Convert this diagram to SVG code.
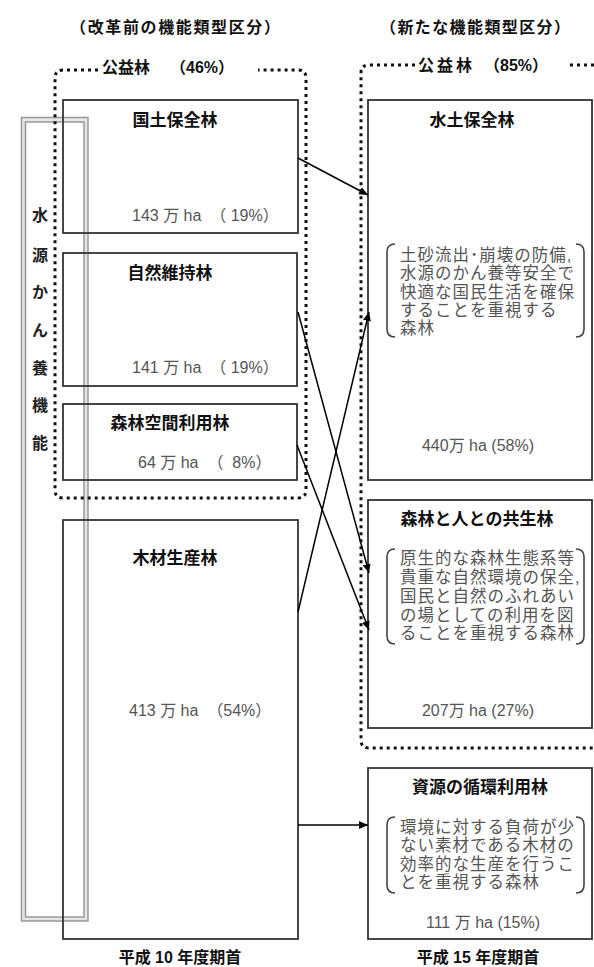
<svg xmlns="http://www.w3.org/2000/svg" width="594" height="967" viewBox="0 0 594 967">
<defs>
<marker id="ah" markerWidth="10" markerHeight="8" refX="9" refY="4" orient="auto" markerUnits="userSpaceOnUse">
<path d="M0,0 L9,4 L0,8 Z" fill="#000"/>
</marker>
<style>
text{font-family:"Liberation Sans","Noto Sans CJK JP",sans-serif;}
.hd{font-size:16px;font-weight:bold;fill:#111;}
.tt{font-size:17px;font-weight:bold;fill:#111;text-anchor:middle;}
.nm{font-size:16px;fill:#555;}
.nc{font-size:16px;fill:#555;text-anchor:middle;}
.br{font-size:16.5px;letter-spacing:1px;fill:#555;}
.vt{font-size:16px;font-weight:bold;fill:#222;text-anchor:middle;}
.box{fill:none;stroke:#333;stroke-width:1.8;}
.dot{fill:none;stroke:#111;stroke-width:3;stroke-dasharray:3 4;}
.bk{fill:none;stroke:#444;stroke-width:1.6;}
.ar{stroke:#000;stroke-width:1.5;fill:none;marker-end:url(#ah);}
</style>
</defs>
<rect width="594" height="967" fill="#fff"/>

<g id="water-function">
<path d="M21.5,117.5 H88 V921 H21.5 Z M25.5,122 V917 H84 V122 Z" fill="#e6e6e6" fill-rule="evenodd" stroke="#999" stroke-width="1.5"/>
<text class="vt" x="40" y="221">水</text>
<text class="vt" x="40" y="261">源</text>
<text class="vt" x="40" y="298">か</text>
<text class="vt" x="40" y="336">ん</text>
<text class="vt" x="40" y="374">養</text>
<text class="vt" x="40" y="411">機</text>
<text class="vt" x="40" y="449">能</text>
</g>

<g id="headers">
<text class="hd" x="70" y="33" textLength="210" lengthAdjust="spacing">（改革前の機能類型区分）</text>
<text class="hd" x="380" y="33" textLength="190" lengthAdjust="spacing">（新たな機能類型区分）</text>
<text class="hd" x="102" y="73">公益林</text>
<text class="hd" x="170" y="73">（46%）</text>
<text class="hd" x="418" y="71" textLength="54" lengthAdjust="spacing">公益林</text>
<text class="hd" x="484" y="71">（85%）</text>
<text class="hd" x="180" y="963" text-anchor="middle">平成 10 年度期首</text>
<text class="hd" x="478" y="963" text-anchor="middle">平成 15 年度期首</text>
</g>

<g id="public-forest-old">
<path class="dot" d="M98,70 H63 Q55,70 55,78 V490 Q55,498 63,498 H298 Q306,498 306,490 V78 Q306,70 298,70 H258"/>
</g>
<g id="public-forest-new">
<path class="dot" d="M415,65 H369 Q361,65 361,73 V740 Q361,748 369,748 H594"/>
<path class="dot" d="M570,65 H594"/>
</g>

<g id="kokudo">
<rect class="box" x="63" y="100" width="235" height="133"/>
<text class="tt" x="175" y="126">国土保全林</text>
<text class="nm" x="132" y="221" xml:space="preserve">143 万 ha  （ 19%）</text>
</g>
<g id="shizen">
<rect class="box" x="63" y="253" width="234" height="133"/>
<text class="tt" x="170" y="279">自然維持林</text>
<text class="nm" x="132" y="373" xml:space="preserve">141 万 ha  （ 19%）</text>
</g>
<g id="kukan">
<rect class="box" x="63" y="404" width="234" height="76"/>
<text class="tt" x="170" y="429">森林空間利用林</text>
<text class="nm" x="138" y="468" xml:space="preserve">64 万 ha  （  8%）</text>
</g>
<g id="mokuzai">
<rect class="box" x="63" y="520" width="235" height="419"/>
<text class="tt" x="175" y="564">木材生産林</text>
<text class="nm" x="129" y="716" xml:space="preserve">413 万 ha  （54%）</text>
</g>

<g id="suido">
<rect class="box" x="368" y="100" width="224" height="380"/>
<text class="tt" x="472" y="126">水土保全林</text>
<path class="bk" d="M395,244 Q387,244 387,252 V329 Q387,337 395,337"/>
<path class="bk" d="M576,244 Q584,244 584,252 V329 Q584,337 576,337"/>
<text class="br" x="400" y="261">土砂流出･崩壊の防備,</text>
<text class="br" x="400" y="279">水源のかん養等安全で</text>
<text class="br" x="400" y="298">快適な国民生活を確保</text>
<text class="br" x="400" y="316">することを重視する</text>
<text class="br" x="400" y="334">森林</text>
<text class="nc" x="478" y="451">440万 ha (58%)</text>
</g>

<g id="kyosei">
<rect class="box" x="368" y="500" width="224" height="228"/>
<text class="tt" x="477" y="525">森林と人との共生林</text>
<path class="bk" d="M395,549 Q387,549 387,557 V636 Q387,644 395,644"/>
<path class="bk" d="M576,549 Q584,549 584,557 V636 Q584,644 576,644"/>
<text class="br" x="400" y="564">原生的な森林生態系等</text>
<text class="br" x="400" y="583">貴重な自然環境の保全,</text>
<text class="br" x="400" y="602">国民と自然のふれあい</text>
<text class="br" x="400" y="621">の場としての利用を図</text>
<text class="br" x="400" y="639">ることを重視する森林</text>
<text class="nc" x="478" y="716">207万 ha (27%)</text>
</g>

<g id="junkan">
<rect class="box" x="368" y="768" width="224" height="171"/>
<text class="tt" x="480" y="793">資源の循環利用林</text>
<path class="bk" d="M395,817 Q387,817 387,825 V885 Q387,893 395,893"/>
<path class="bk" d="M576,817 Q584,817 584,825 V885 Q584,893 576,893"/>
<text class="br" x="400" y="833">環境に対する負荷が少</text>
<text class="br" x="400" y="851">ない素材である木材の</text>
<text class="br" x="400" y="870">効率的な生産を行うこ</text>
<text class="br" x="400" y="888">とを重視する森林</text>
<text class="nc" x="483" y="928">111 万 ha (15%)</text>
</g>

<g id="connectors">
<line class="ar" x1="298" y1="158" x2="368" y2="195"/>
<line class="ar" x1="298" y1="312" x2="369" y2="573"/>
<line class="ar" x1="297" y1="445" x2="369" y2="630"/>
<line class="ar" x1="298" y1="612" x2="369" y2="312"/>
<line class="ar" x1="298" y1="825" x2="368" y2="825"/>
</g>
</svg>
